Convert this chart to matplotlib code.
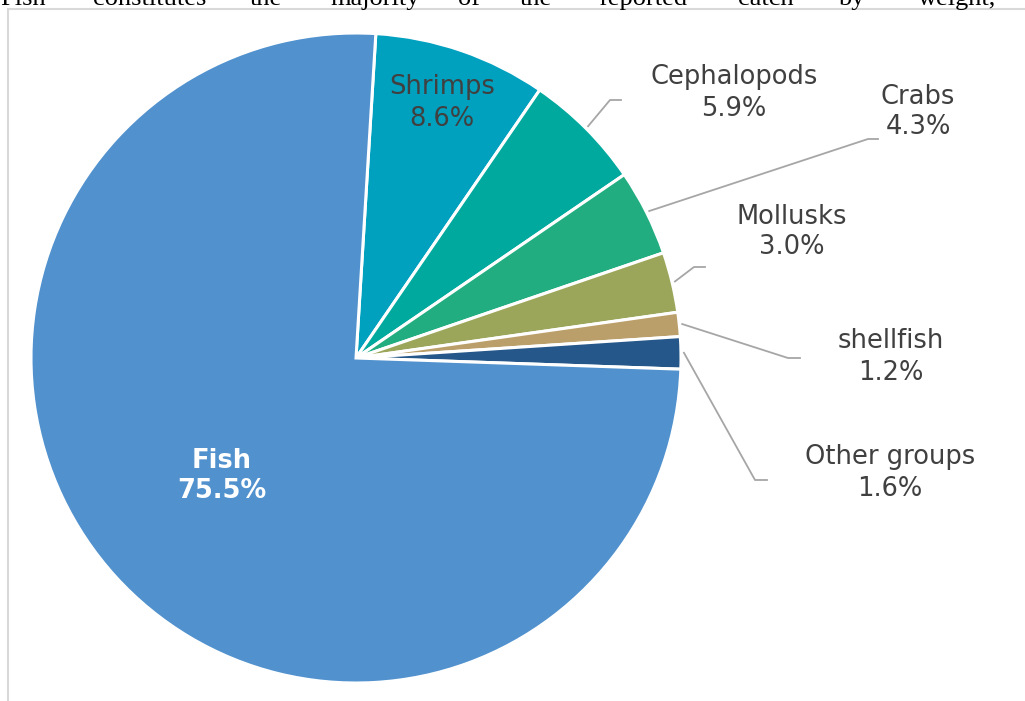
import numpy as np
import matplotlib
matplotlib.use("Agg")
import matplotlib.pyplot as plt
from matplotlib.patches import Rectangle

# catch composition by weight (%), clockwise from the top
groups = ["Shrimps", "Cephalopods", "Crabs", "Mollusks", "shellfish", "Other groups", "Fish"]
shares = [8.6, 5.9, 4.3, 3.0, 1.2, 1.6, 75.5]
colors = ["#00A0BF", "#00A99E", "#22AD80", "#9CA65A", "#BB9F6A", "#25578A", "#5091CE"]

# where each label block sits (image pixels) and the leader elbow / end
label_pos = {"Shrimps": (442, 103), "Cephalopods": (734, 93), "Crabs": (918, 112),
             "Mollusks": (792, 232), "shellfish": (891, 357), "Other groups": (890, 473),
             "Fish": (222, 476)}
leaders = {"Cephalopods": [(610, 100), (621, 100)], "Crabs": [(868, 139), (878, 139)],
           "Mollusks": [(694, 267), (705, 267)], "shellfish": [(788, 358), (800, 358)],
           "Other groups": [(755, 480), (767, 480)]}

W, H = 1025, 701
cx, cy, R = 356, 358, 325
start = 86.5

fig = plt.figure(figsize=(W / 100, H / 100), dpi=100)
ax = fig.add_axes([0, 0, 1, 1])

def fy(y):
    return H - y

# frame of the chart box
ax.add_patch(Rectangle((8, fy(1000)), 1100, 1000 - 9, fill=False, ec="#D9D9D9", lw=1.5))

# cut-off line of body text above the chart
words = ["Fish", "constitutes", "the", "majority", "of", "the", "reported", "catch", "by", "weight,"]
word_x = [0, 93, 250, 330, 458, 520, 600, 738, 838, 918]
for w, x in zip(words, word_x):
    ax.text(x, fy(5), w, family="Liberation Serif", fontsize=19, color="black",
            ha="left", va="baseline")

wedges, _ = ax.pie(shares, colors=colors, startangle=start, counterclock=False,
                   center=(cx, fy(cy)), radius=R, frame=True,
                   wedgeprops=dict(edgecolor="white", linewidth=2.2))
ax.set_xlim(0, W)
ax.set_ylim(0, H)
ax.axis("off")

txt_col = "#404040"
for name, val, wd in zip(groups, shares, wedges):
    x, y = label_pos[name]
    s = f"{name}\n{val:.1f}%"
    if name == "Fish":
        ax.text(x, fy(y), s, ha="center", va="center", fontsize=18.5, color="white",
                fontweight="bold", linespacing=1.25)
    else:
        ax.text(x, fy(y), s, ha="center", va="center", fontsize=18.5, color=txt_col,
                linespacing=1.25)
    if name in leaders:
        mid = np.deg2rad((wd.theta1 + wd.theta2) / 2)
        sx = cx + (R + 3) * np.cos(mid)
        sy = fy(cy) + (R + 3) * np.sin(mid)
        pts = [(sx, sy)] + [(px, fy(py)) for px, py in leaders[name]]
        ax.plot([p[0] for p in pts], [p[1] for p in pts], color="#A6A6A6", lw=1.3)

fig.savefig("out.png", dpi=100)
